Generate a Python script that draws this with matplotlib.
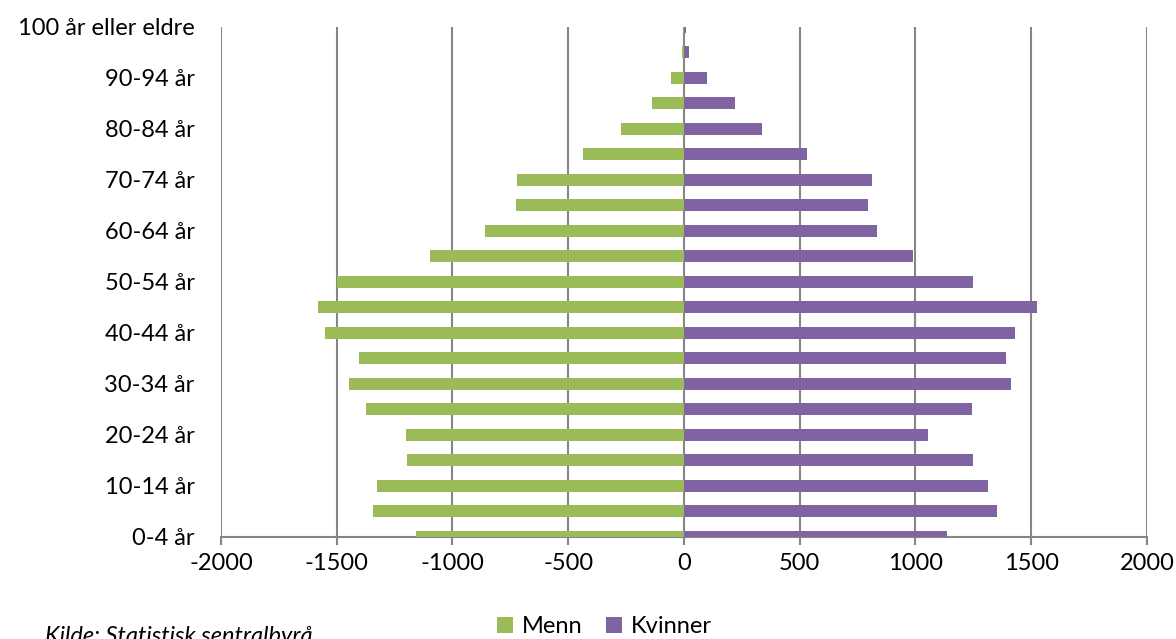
import numpy as np
import matplotlib
matplotlib.use("Agg")
import matplotlib.pyplot as plt

plt.rcParams['font.family'] = ['Lato', 'DejaVu Sans']

# age groups, youngest first
age_groups = ["0-4 år", "5-9 år", "10-14 år", "15-19 år", "20-24 år", "25-29 år",
              "30-34 år", "35-39 år", "40-44 år", "45-49 år", "50-54 år", "55-59 år",
              "60-64 år", "65-69 år", "70-74 år", "75-79 år", "80-84 år", "85-89 år",
              "90-94 år", "95-99 år", "100 år eller eldre"]

# men are plotted on the negative side
menn = [-1157, -1345, -1327, -1196, -1201, -1374, -1448, -1405, -1550, -1579, -1498,
        -1096, -861, -727, -723, -436, -271, -138, -55, -9, -4]
kvinner = [1137, 1351, 1314, 1250, 1056, 1243, 1412, 1390, 1430, 1527, 1249,
           990, 835, 797, 811, 533, 337, 219, 99, 20, 8]

x_ticks = [-2000, -1500, -1000, -500, 0, 500, 1000, 1500, 2000]

GREEN = "#9BBB59"
PURPLE = "#8064A2"
GRID = "#868686"
FS = 17

fig = plt.figure(figsize=(11.76, 6.39), dpi=100)
ax = fig.add_axes([0.1879, 0.160, 0.7874, 0.7982])

y = np.arange(len(age_groups))
ax.barh(y, menn, height=0.46, color=GREEN, label="Menn", zorder=3)
ax.barh(y, kvinner, height=0.46, color=PURPLE, label="Kvinner", zorder=3)

ax.set_xlim(-2000, 2000)
ax.set_ylim(0, len(age_groups) - 1)
ax.set_xticks(x_ticks)
ax.set_xticklabels([str(v) for v in x_ticks], fontsize=FS)
ax.set_yticks(y[::2])
ax.set_yticklabels(age_groups[::2], fontsize=FS)

ax.grid(axis="x", color=GRID, linewidth=1.5, zorder=0)
for side in ("top", "right", "left"):
    ax.spines[side].set_visible(False)
ax.spines["bottom"].set_color(GRID)
ax.spines["bottom"].set_linewidth(1.5)
ax.tick_params(axis="x", length=6, width=1.5, color=GRID, pad=6)
ax.tick_params(axis="y", length=0, pad=19)

fig.legend(loc="center left", bbox_to_anchor=(0.4226, 0.0188), ncol=2, frameon=False,
           fontsize=FS, handlelength=0.68, handleheight=0.68, handletextpad=0.37,
           columnspacing=1.0, borderpad=0, borderaxespad=0)

# source note sits right at the bottom edge
fig.text(0.038, -0.006, "Kilde: Statistisk sentralbyrå", fontsize=FS,
         style="italic", va="baseline", ha="left")

fig.savefig("out.png", dpi=100)
